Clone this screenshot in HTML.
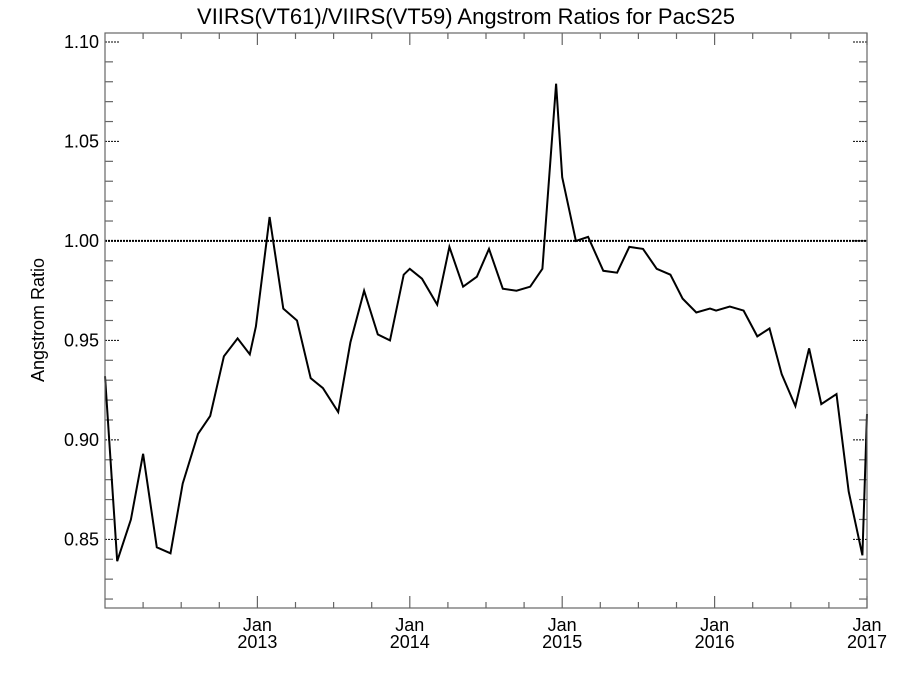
<!DOCTYPE html>
<html><head><meta charset="utf-8"><style>
body{margin:0;background:#fff}
svg text{font-family:"Liberation Sans",sans-serif;fill:#000}
</style></head><body>
<svg id="chart" width="900" height="675" xmlns="http://www.w3.org/2000/svg">
<text x="466" y="24" font-size="22" text-anchor="middle">VIIRS(VT61)/VIIRS(VT59)  Angstrom Ratios for PacS25</text>
<text transform="translate(44,320) rotate(-90)" font-size="18" text-anchor="middle">Angstrom Ratio</text>
<g id="ticks"></g>
<line id="ref" stroke="#000" stroke-width="2" stroke-dasharray="2,1"/>
<path id="series" fill="none" stroke="#000" stroke-width="2"/>
<rect x="105" y="33" width="762" height="575" fill="none" stroke="#666" stroke-width="1.2"/>
</svg>
<script>
const dates=[2012.00,2012.08,2012.17,2012.25,2012.34,2012.43,2012.51,2012.61,2012.69,2012.78,2012.87,2012.95,2012.99,2013.08,2013.17,2013.26,2013.35,2013.43,2013.53,2013.61,2013.70,2013.79,2013.87,2013.96,2014.00,2014.08,2014.18,2014.26,2014.35,2014.44,2014.52,2014.61,2014.70,2014.79,2014.87,2014.96,2015.00,2015.09,2015.17,2015.27,2015.36,2015.44,2015.53,2015.62,2015.71,2015.79,2015.88,2015.97,2016.01,2016.10,2016.19,2016.28,2016.36,2016.44,2016.53,2016.62,2016.70,2016.80,2016.88,2016.97,2017.00];
const ratios=[0.932,0.839,0.860,0.893,0.846,0.843,0.878,0.903,0.912,0.942,0.951,0.943,0.957,1.012,0.966,0.960,0.931,0.926,0.914,0.949,0.975,0.953,0.950,0.983,0.986,0.981,0.968,0.997,0.977,0.982,0.996,0.976,0.975,0.977,0.986,1.079,1.032,1.000,1.002,0.985,0.984,0.997,0.996,0.986,0.983,0.971,0.964,0.966,0.965,0.967,0.965,0.952,0.956,0.933,0.917,0.946,0.918,0.923,0.874,0.842,0.913];
const yTickLabels=["0.85","0.90","0.95","1.00","1.05","1.10"];
const xTickYears=[2013,2014,2015,2016,2017];
const refValue=1.0;
const L=105,R=867,T=33,B=608,x0=2012.0,x1=2017.0,y0=0.8155,y1=1.1045;
const sx=v=>L+(v-x0)/(x1-x0)*(R-L);
const sy=v=>B-(v-y0)/(y1-y0)*(B-T);
const NS="http://www.w3.org/2000/svg";
const g=document.getElementById('ticks');
function ln(a,b,c,d,dash,name){const e=document.createElementNS(NS,'line');e.setAttribute('x1',a);e.setAttribute('y1',b);e.setAttribute('x2',c);e.setAttribute('y2',d);e.setAttribute('stroke',dash?'#000':'#666');e.setAttribute('stroke-width',dash?1:1.2);if(dash)e.setAttribute('stroke-dasharray','2,1');


g.appendChild(e);}
function tx(x,y,s,anchor,name){const e=document.createElementNS(NS,'text');e.setAttribute('x',x);e.setAttribute('y',y);e.setAttribute('font-size','18');e.setAttribute('text-anchor',anchor);e.textContent=s;


g.appendChild(e);}
for(let i=82;i<=110;i++){const v=i/100,y=sy(v);if(i%5===0)continue;ln(L,y,L+8,y,false,'y-minor-tick');ln(R,y,R-8,y,false,'y-minor-tick');}
yTickLabels.forEach(t=>{const y=sy(parseFloat(t));ln(L,y,L+15,y,true,'y-major-tick');ln(R,y,R-15,y,true,'y-major-tick');tx(L-6,y+6,t,'end','y-tick-label');});
for(let m=3;m<60;m+=3){if(m%12===0)continue;const x=sx(x0+m/12);ln(x,B,x,B-6,false,'x-minor-tick');ln(x,T,x,T+6,false,'x-minor-tick');}
xTickYears.forEach(yv=>{const x=sx(yv);ln(x,B,x,B-12,false,'x-major-tick');ln(x,T,x,T+12,false,'x-major-tick');tx(x,B+23,'Jan','middle','x-tick-month');tx(x,B+40,String(yv),'middle','x-tick-year');});
const ref=document.getElementById('ref');ref.setAttribute('x1',L);ref.setAttribute('x2',R);ref.setAttribute('y1',sy(refValue));ref.setAttribute('y2',sy(refValue));
document.getElementById('series').setAttribute('d',dates.map((d,i)=>(i?'L':'M')+sx(d).toFixed(1)+','+sy(ratios[i]).toFixed(1)).join(''));
</script>
</body></html>
